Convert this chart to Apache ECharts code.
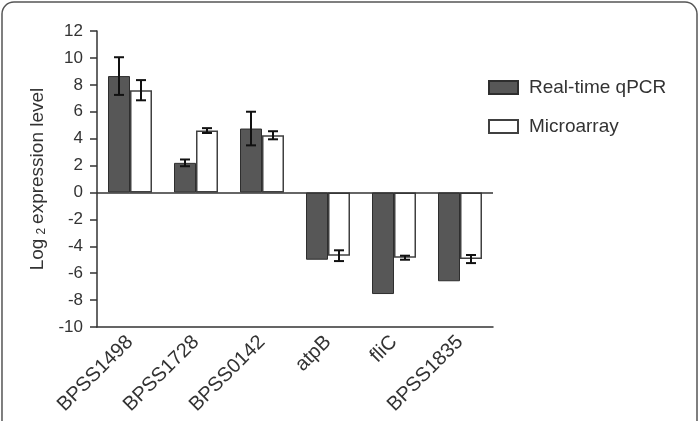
<!DOCTYPE html>
<html>
<head>
<meta charset="utf-8">
<script src="https://cdn.jsdelivr.net/npm/echarts@6/dist/echarts.min.js"></script>
<style>
  html, body { margin: 0; padding: 0; background: #fff; }
  #chart { width: 698px; height: 421px; }
</style>
</head>
<body>
<div id="chart"></div>
<script>
// genes on the x axis
var categories = ['BPSS1498', 'BPSS1728', 'BPSS0142', 'atpB', 'fliC', 'BPSS1835']
// log2 expression level
var qpcr = [8.65, 2.2, 4.75, -5.0, -7.55, -6.6]
var qpcrErr = [1.4, 0.25, 1.25, 0, 0, 0]
var microarray = [7.6, 4.6, 4.25, -4.7, -4.85, -4.95]
var microErr = [0.75, 0.18, 0.3, 0.4, 0.15, 0.3]
var yTicks = { min: -10, max: 12, interval: 2 }

var font = '"Liberation Sans", Arial, sans-serif'
var barW = 22

function errData (vals, errs) {
  var out = []
  vals.forEach(function (v, i) {
    if (errs[i] > 0) out.push([i, v - errs[i], v + errs[i]])
  })
  return out
}

// draws a vertical error bar with caps, shifted left/right onto its bar
function errorBar (offset) {
  return function (params, api) {
    var i = api.value(0)
    var lo = api.coord([i, api.value(1)])
    var hi = api.coord([i, api.value(2)])
    var x = lo[0] + offset
    var cap = 5
    var st = { stroke: '#111', lineWidth: 2 }
    return {
      type: 'group',
      children: [
        { type: 'line', shape: { x1: x, y1: lo[1], x2: x, y2: hi[1] }, style: st },
        { type: 'line', shape: { x1: x - cap, y1: lo[1], x2: x + cap, y2: lo[1] }, style: st },
        { type: 'line', shape: { x1: x - cap, y1: hi[1], x2: x + cap, y2: hi[1] }, style: st }
      ]
    }
  }
}

var option = {
  animation: false,
  backgroundColor: '#fff',
  textStyle: { fontFamily: font },
  graphic: [
    { //圆角边框
      type: 'rect',
      shape: { x: 2, y: 2, width: 695, height: 470, r: 12 },
      style: { fill: 'none', stroke: '#555', lineWidth: 1.5 },
      silent: true
    }
  ],
  legend: {
    orient: 'vertical',
    left: 483,
    top: 73,
    itemWidth: 29,
    itemHeight: 13,
    itemGap: 20,
    icon: 'rect',
    textStyle: { fontSize: 19, color: '#333', fontFamily: font, padding: [0, 0, 0, 6] },
    data: ['Real-time qPCR', 'Microarray']
  },
  grid: {
    left: 97,
    right: 205,
    top: 31,
    bottom: 94
  },
  xAxis: {
    type: 'category',
    data: categories,
    axisLine: { onZero: false, lineStyle: { color: '#333', width: 1.5 } },
    axisTick: { length: 8, lineStyle: { color: '#333', width: 1.5 } },
    axisLabel: { rotate: 45, fontSize: 20, color: '#333', margin: 12, fontFamily: font }
  },
  yAxis: {
    type: 'value',
    min: yTicks.min,
    max: yTicks.max,
    interval: yTicks.interval,
    name: '{a|Log}{s|2}{a|expression level}',
    nameLocation: 'middle',
    nameGap: 46,
    nameTextStyle: {
      rich: {
        a: { fontSize: 19, color: '#333', fontFamily: font },
        s: { fontSize: 12, color: '#333', fontFamily: font, padding: [8, 4, 0, 4] }
      }
    },
    axisLine: { show: true, lineStyle: { color: '#333', width: 1.5 } },
    axisTick: { show: true, length: 7, lineStyle: { color: '#333', width: 1.5 } },
    axisLabel: { fontSize: 17, color: '#333', margin: 14, fontFamily: font },
    splitLine: { show: false }
  },
  series: [
    {
      name: 'Real-time qPCR',
      type: 'bar',
      barWidth: barW,
      barGap: '0%',
      itemStyle: { color: '#575757', borderColor: '#2e2e2e', borderWidth: 1 },
      data: qpcr,
      markLine: {
        silent: true,
        symbol: 'none',
        label: { show: false },
        lineStyle: { color: '#333', width: 1.5, type: 'solid' },
        data: [{ yAxis: 0 }]
      }
    },
    {
      name: 'Microarray',
      type: 'bar',
      barWidth: barW,
      itemStyle: { color: '#fff', borderColor: '#404040', borderWidth: 1.5 },
      data: microarray
    },
    {
      type: 'custom',
      renderItem: errorBar(-barW / 2),
      data: errData(qpcr, qpcrErr),
      z: 10
    },
    {
      type: 'custom',
      renderItem: errorBar(barW / 2),
      data: errData(microarray, microErr),
      z: 10
    }
  ]
}

var myChart = echarts.init(document.getElementById('chart'))
myChart.setOption(option)
</script>
</body>
</html>
